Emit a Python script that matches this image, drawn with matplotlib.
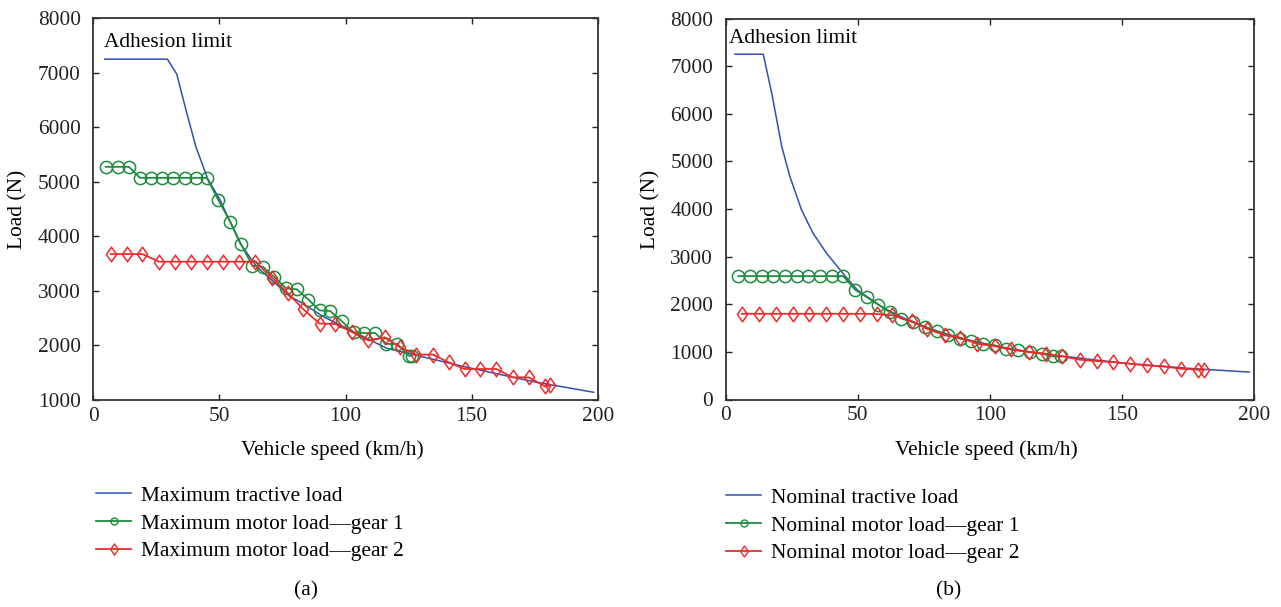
import matplotlib
matplotlib.use("Agg")
import matplotlib.pyplot as plt
from matplotlib.lines import Line2D
from matplotlib.path import Path

plt.rcParams['font.family'] = ['Liberation Serif', 'DejaVu Serif']
plt.rcParams['mathtext.fontset'] = 'stix'

# ---------------- data: panel (a) maximum loads ----------------
a_trac_speed = [4.5, 29.4, 33.1, 37.1, 40.7, 45.3, 50.3, 58.2, 64.8, 78.1, 82.0,
                91.3, 103.2, 116.4, 148.2, 174.6, 198.4]
a_trac_load = [7250, 7250, 6975, 6254, 5640, 5060, 4664, 3870, 3441, 2891, 2799,
               2524, 2249, 1944, 1596, 1332, 1138]

a_g1_speed = [4.9, 9.7, 14.1, 18.5, 22.9, 27.1, 31.8, 36.4, 40.8, 45.0, 49.6, 54.3,
              58.6, 63.1, 67.2, 71.6, 76.4, 80.7, 85.3, 89.7, 93.9, 98.6, 103.2,
              107.4, 111.8, 116.2, 120.6, 125.0, 126.3]
a_g1_load = [5275, 5275, 5275, 5073, 5073, 5073, 5073, 5073, 5073, 5073, 4664, 4267,
             3852, 3460, 3443, 3260, 3046, 3027, 2840, 2640, 2630, 2440, 2236,
             2225, 2225, 2025, 2025, 1810, 1810]

a_g2_speed = [6.9, 13.3, 19.4, 26.1, 32.4, 38.8, 45.2, 51.6, 57.9, 64.2, 70.8, 77.2,
              83.3, 89.7, 96.0, 102.7, 109.1, 115.5, 121.7, 128.1, 134.7, 140.9,
              147.2, 153.5, 159.8, 166.3, 172.6, 179.2, 181.2]
a_g2_load = [3674, 3674, 3674, 3534, 3534, 3534, 3534, 3534, 3534, 3534, 3241, 2954,
             2660, 2400, 2390, 2240, 2090, 2147, 1963, 1829, 1829, 1687, 1565,
             1565, 1565, 1411, 1411, 1245, 1265]

# ---------------- data: panel (b) nominal loads ----------------
b_trac_speed = [3.5, 14.2, 17.4, 21.2, 24.3, 28.7, 33.1, 38.2, 43.9, 45.4, 50, 60,
                70, 80, 90, 100, 110, 120, 150, 175, 198.1]
b_trac_load = [7250, 7250, 6436, 5312, 4680, 3979, 3488, 3067, 2680, 2575, 2290,
               1910, 1640, 1435, 1275, 1150, 1045, 960, 765, 655, 575]

b_g1_speed = [4.8, 9.2, 13.6, 18.0, 22.4, 26.8, 31.2, 35.6, 40.1, 44.5, 48.9, 53.3,
              57.7, 62.1, 66.5, 70.9, 75.3, 79.8, 84.2, 88.6, 93.0, 97.4, 101.8,
              106.2, 110.6, 115.0, 119.5, 123.9, 127.0]
b_g1_load = [2590, 2590, 2590, 2590, 2590, 2590, 2590, 2590, 2590, 2590, 2309, 2154,
             1993, 1839, 1698, 1628, 1523, 1439, 1347, 1277, 1228, 1165, 1137,
             1067, 1032, 996, 962, 905, 905]

b_g2_speed = [6.1, 12.6, 19.0, 25.3, 31.6, 37.9, 44.5, 50.8, 57.3, 63.1, 70.3, 76.0,
              82.9, 88.8, 95.1, 101.8, 108.1, 114.8, 121.1, 127.4, 134.0, 140.3,
              146.5, 153.1, 159.4, 165.7, 172.4, 178.7, 180.9]
b_g2_load = [1800, 1800, 1800, 1800, 1800, 1800, 1800, 1800, 1795, 1768, 1649, 1488,
             1347, 1298, 1172, 1120, 1050, 996, 962, 905, 836, 807, 786, 751, 716,
             695, 646, 625, 625]

labels_a = ["Maximum tractive load", "Maximum motor load\u2014gear 1",
            "Maximum motor load\u2014gear 2"]
labels_b = ["Nominal tractive load", "Nominal motor load\u2014gear 1",
            "Nominal motor load\u2014gear 2"]

BLUE = '#3050B4'
GREEN = '#1E8C3E'
RED = '#EE2B2B'
FS = 15.4

diamond = Path([(0, 1), (0.7, 0), (0, -1), (-0.7, 0), (0, 1)],
               [Path.MOVETO, Path.LINETO, Path.LINETO, Path.LINETO, Path.CLOSEPOLY])

fig = plt.figure(figsize=(12.81, 6.07), dpi=100)
W, H = 1281.0, 607.0
ax1 = fig.add_axes([93.3 / W, 1 - 399.8 / H, 504.4 / W, 381.5 / H])
ax2 = fig.add_axes([725.7 / W, 1 - 399.5 / H, 528.6 / W, 381.0 / H])


def draw(ax, ts, tl, g1s, g1l, g2s, g2l, labels, ylim, xlc, ylc, leg_anchor, adh_xy):
    ax.plot(ts, tl, color=BLUE, lw=1.1, zorder=2)
    ax.plot(g1s, g1l, color=GREEN, lw=1.3, marker='o', ms=8.8, mfc='none',
            mec=GREEN, mew=1.1, zorder=3)
    ax.plot(g2s, g2l, color=RED, lw=1.3, marker=diamond, ms=10.5, mfc='none',
            mec=RED, mew=1.1, zorder=4)
    ax.set_xlim(0, 200)
    ax.set_ylim(*ylim)
    ax.set_xticks([0, 50, 100, 150, 200])
    ax.set_yticks(list(range(ylim[0], ylim[1] + 1, 1000)))
    ax.tick_params(direction='in', length=4, width=1.0, top=True, right=True,
                   labelsize=FS, colors='#222222')
    ax.tick_params(axis='x', pad=5)
    ax.tick_params(axis='y', pad=9)
    for s in ax.spines.values():
        s.set_linewidth(1.3)
        s.set_color('#333333')
    ax.set_xlabel("Vehicle speed (km/h)", fontsize=FS, va='center')
    ax.set_ylabel("Load (N)", fontsize=FS, va='center', ha='center')
    ax.xaxis.set_label_coords(*xlc)
    ax.yaxis.set_label_coords(*ylc)
    ax.text(adh_xy[0], adh_xy[1], "Adhesion limit", fontsize=FS, va='center',
            ha='left')
    handles = [
        Line2D([], [], color=BLUE, lw=1.1),
        Line2D([], [], color=GREEN, lw=1.3, marker='o', ms=5, mfc='none', mew=1.0),
        Line2D([], [], color=RED, lw=1.3, marker=diamond, ms=8, mfc='none', mew=1.0),
    ]
    ax.legend(handles, labels, loc='upper left', bbox_to_anchor=leg_anchor,
              bbox_transform=fig.transFigure, frameon=False, fontsize=FS,
              handlelength=1.65, handletextpad=0.45, labelspacing=0.36,
              borderpad=0, borderaxespad=0, numpoints=1)


draw(ax1, a_trac_speed, a_trac_load, a_g1_speed, a_g1_load, a_g2_speed, a_g2_load,
     labels_a, (1000, 8000), (0.474, -0.132), (-0.149, 0.5),
     (96 / W, 1 - 486 / H), (4.2, 7550))
draw(ax2, b_trac_speed, b_trac_load, b_g1_speed, b_g1_load, b_g2_speed, b_g2_load,
     labels_b, (0, 8000), (0.4925, -0.134), (-0.141, 0.5),
     (726 / W, 1 - 488 / H), (1.3, 7580))

fig.text(306 / W, 1 - 591 / H, "(a)", fontsize=FS, ha='center', va='center')
fig.text(949 / W, 1 - 591 / H, "(b)", fontsize=FS, ha='center', va='center')

fig.savefig("out.png", dpi=100)
